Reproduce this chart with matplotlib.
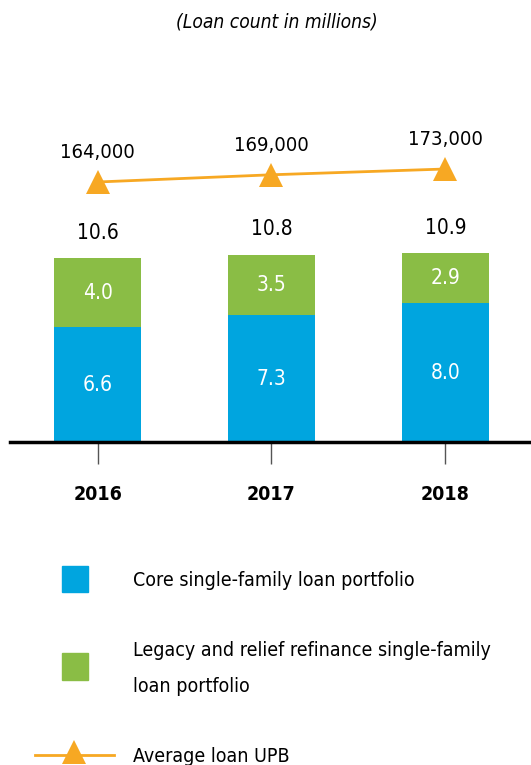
import matplotlib.pyplot as plt
from matplotlib.patches import Rectangle
from matplotlib.lines import Line2D

plt.rcParams['font.family'] = ['DejaVu Sans']
plt.rcParams['font.stretch'] = 'condensed'

years = ['2016', '2017', '2018']
core = [6.6, 7.3, 8.0]
legacy = [4.0, 3.5, 2.9]
totals = [10.6, 10.8, 10.9]
avg_upb = [164000, 169000, 173000]

blue = '#00a5df'
green = '#8abd45'
orange = '#f7a823'

W, H = 531, 765
fig = plt.figure(figsize=(W / 100, H / 100), dpi=100)

# axes in pixel coords: left 10, right 531, baseline 442, top 100
ax = fig.add_axes([10 / W, 1 - 442 / H, 521 / W, 342 / H])
x = list(range(len(years)))
ax.bar(x, core, width=0.5, color=blue)
ax.bar(x, legacy, width=0.5, bottom=core, color=green)
ax.set_xlim(-0.504, 2.4925)
ax.set_ylim(0, 19.7)

for i in x:
    ax.text(i, core[i] / 2, f'{core[i]:.1f}', ha='center', va='center', color='white', fontsize=15)
    ax.text(i, core[i] + legacy[i] / 2, f'{legacy[i]:.1f}', ha='center', va='center', color='white', fontsize=15)
    ax.text(i, totals[i] + 1.45, f'{totals[i]:.1f}', ha='center', va='center', color='black', fontsize=15)

for s in ['top', 'right', 'left']:
    ax.spines[s].set_visible(False)
ax.spines['bottom'].set_linewidth(2.5)
ax.set_yticks([])
ax.set_xticks(x)
ax.set_xticklabels(years, fontsize=14, fontweight='bold')
ax.tick_params(axis='x', length=16, width=1, color='#555555', pad=15)

ax2 = ax.twinx()
ax2.set_ylim(-16000, 220770)
ax2.plot(x, avg_upb, color=orange, lw=2, marker='^', markersize=17, markeredgewidth=0)
for i in x:
    ax2.text(i, avg_upb[i] + 20500, f'{avg_upb[i]:,}', ha='center', va='center', fontsize=14.5)
ax2.axis('off')

fig.text(277 / W, 1 - 22 / H, '(Loan count in millions)', ha='center', va='center',
         fontsize=13.8, style='italic')

# legend
fs = 14
fig.add_artist(Rectangle((62 / W, 1 - 592 / H), 26 / W, 26 / H, color=blue, transform=fig.transFigure))
fig.text(133 / W, 1 - 580 / H, 'Core single-family loan portfolio', va='center', fontsize=fs)
fig.add_artist(Rectangle((62 / W, 1 - 680 / H), 26 / W, 27 / H, color=green, transform=fig.transFigure))
fig.text(133 / W, 1 - 650 / H, 'Legacy and relief refinance single-family', va='center', fontsize=fs)
fig.text(133 / W, 1 - 686 / H, 'loan portfolio', va='center', fontsize=fs)
fig.add_artist(Line2D([35 / W, 114 / W], [1 - 755 / H, 1 - 755 / H], color=orange, lw=2,
                      transform=fig.transFigure))
fig.add_artist(Line2D([74 / W], [1 - 752 / H], color=orange, marker='^', markersize=17,
                      markeredgewidth=0, transform=fig.transFigure))
fig.text(133 / W, 1 - 757 / H, 'Average loan UPB', va='center', fontsize=fs)

fig.savefig('out.png', dpi=100)
